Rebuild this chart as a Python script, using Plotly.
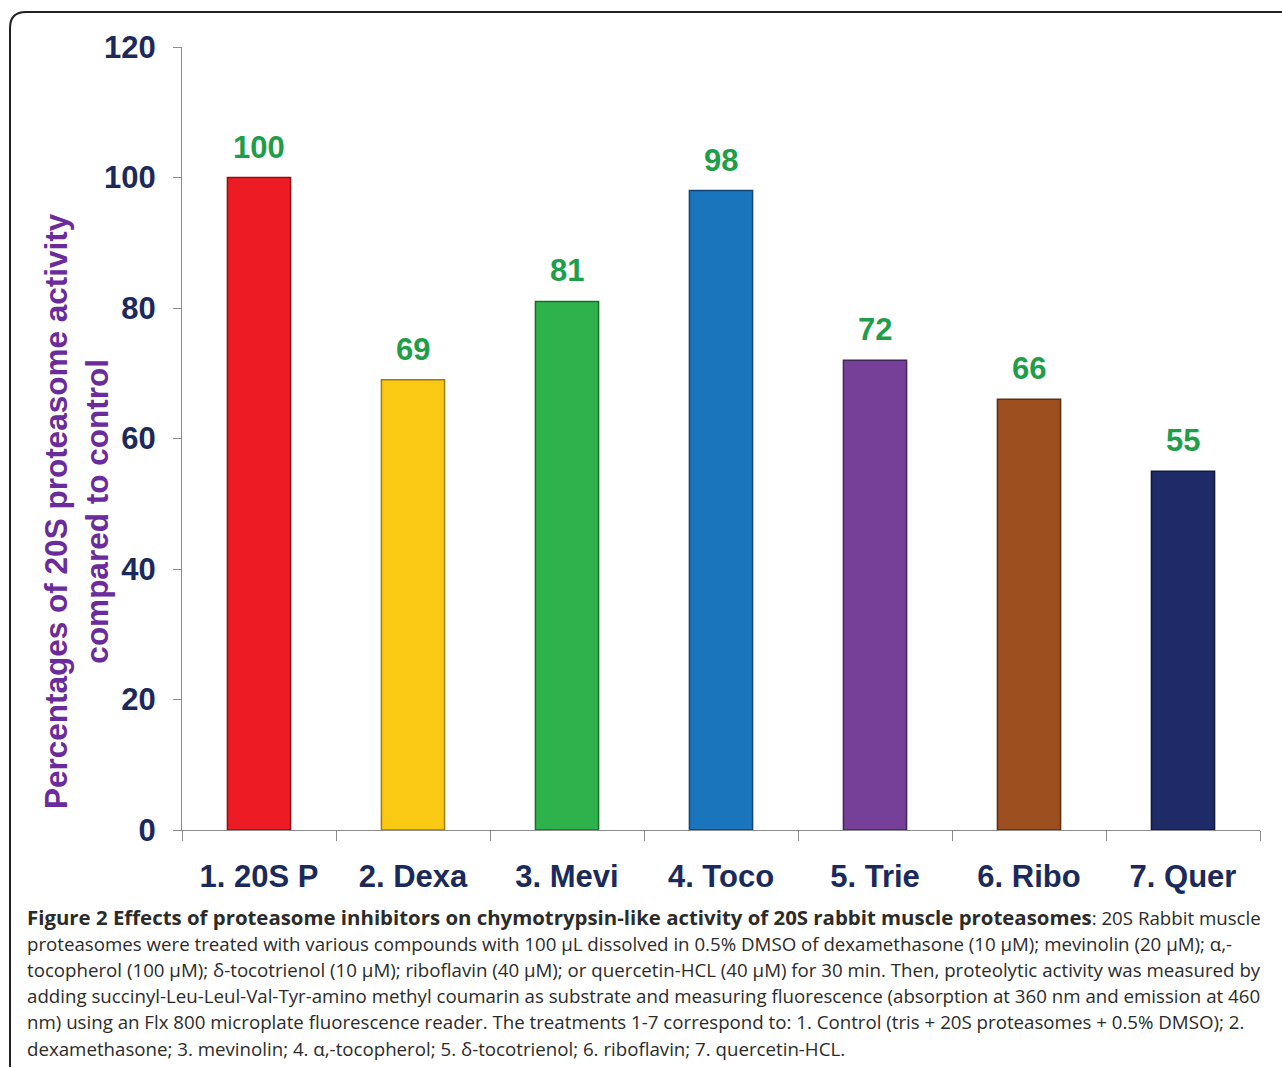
import plotly.graph_objects as go

# Treatments and measured activity (% of control)
categories = ["1. 20S P", "2. Dexa", "3. Mevi", "4. Toco", "5. Trie", "6. Ribo", "7. Quer"]
activity = [100, 69, 81, 98, 72, 66, 55]
bar_colors = ["#ed1c24", "#f9c913", "#2db24c", "#1b75bd", "#763f98", "#9c4e1e", "#1e2b66"]
edge_colors = ["#8e1015", "#a07c08", "#1a6b2d", "#0f4675", "#46255b", "#5e2f12", "#111a3d"]
y_ticks = [0, 20, 40, 60, 80, 100, 120]

caption_lines = [
    "<b><span style='font-size:20.4px'>Figure 2 Effects of proteasome inhibitors on chymotrypsin-like activity of 20S rabbit muscle proteasomes</span></b>: 20S Rabbit muscle",
    "proteasomes were treated with various compounds with 100 µL dissolved in 0.5% DMSO of dexamethasone (10 µM); mevinolin (20 µM); α,-",
    "tocopherol (100 µM); δ-tocotrienol (10 µM); riboflavin (40 µM); or quercetin-HCL (40 µM) for 30 min. Then, proteolytic activity was measured by",
    "adding succinyl-Leu-Leul-Val-Tyr-amino methyl coumarin as substrate and measuring fluorescence (absorption at 360 nm and emission at 460",
    "nm) using an Flx 800 microplate fluorescence reader. The treatments 1-7 correspond to: 1. Control (tris + 20S proteasomes + 0.5% DMSO); 2.",
    "dexamethasone; 3. mevinolin; 4. α,-tocopherol; 5. δ-tocotrienol; 6. riboflavin; 7. quercetin-HCL.",
]

W, H = 1282, 1067
L, R, T, B = 182, 22, 47, 237
PW, PH = W - L - R, H - T - B


def px_x(x):
    return (x - L) / PW


def px_y(y):
    return (H - B - y) / PH


NAVY = "#1b2a5c"
GREEN = "#1f9e49"
PURPLE = "#6a2c9c"
CHART_FONT = "Liberation Sans, Arial"

fig = go.Figure()
fig.add_trace(go.Bar(
    x=categories,
    y=activity,
    marker=dict(color=bar_colors, line=dict(color=edge_colors, width=1.5)),
    width=0.41,
    hoverinfo="x+y",
    showlegend=False,
))

# value labels above each bar
for cat, val in zip(categories, activity):
    fig.add_annotation(
        x=cat, y=val, xref="x", yref="y", text=f"<b>{val}</b>", showarrow=False,
        yanchor="bottom", yshift=11,
        font=dict(family=CHART_FONT, size=31, color=GREEN),
    )

# y-axis title (two lines)
fig.add_annotation(
    x=px_x(76), y=px_y(511), xref="paper", yref="paper",
    text="<b>Percentages of 20S proteasome activity<br>compared to control</b>",
    textangle=-90, showarrow=False, xanchor="center", yanchor="middle",
    font=dict(family=CHART_FONT, size=31.5, color=PURPLE),
)

# caption
for i, line in enumerate(caption_lines):
    fig.add_annotation(
        x=px_x(25), y=px_y(917 + 26.2 * i), xref="paper", yref="paper",
        text=line, showarrow=False, xanchor="left", yanchor="middle",
        align="left",
        font=dict(family="Open Sans", size=18.7, color="#2b2b2b"),
    )

# frame with rounded top-left corner
rad = 16
fig.add_shape(
    type="path", xref="paper", yref="paper",
    path=(f"M {px_x(10)} {px_y(1070)} L {px_x(10)} {px_y(12 + rad)} "
          f"Q {px_x(10)} {px_y(12)} {px_x(10 + rad)} {px_y(12)} L {px_x(1290)} {px_y(12)}"),
    line=dict(color="#222222", width=2),
)

fig.update_layout(
    width=W, height=H,
    margin=dict(l=L, r=R, t=T, b=B, autoexpand=False),
    paper_bgcolor="white", plot_bgcolor="white",
    bargap=0.59,
    xaxis=dict(
        showline=True, linecolor="#8c8c8c", linewidth=1,
        ticks="outside", ticklen=10, tickcolor="#8c8c8c",
        tickson="boundaries",
        tickvals=categories, ticktext=[f"<b>{c}</b>" for c in categories],
        tickfont=dict(family=CHART_FONT, size=31, color=NAVY),
        ticklabelstandoff=19,
        showgrid=False, zeroline=False,
    ),
    yaxis=dict(
        range=[0, 120], tickvals=y_ticks, ticktext=[f"<b>{v}</b>" for v in y_ticks],
        showline=True, linecolor="#8c8c8c", linewidth=1,
        ticks="outside", ticklen=8, tickcolor="#8c8c8c",
        tickfont=dict(family=CHART_FONT, size=31, color=NAVY),
        ticklabelstandoff=11,
        showgrid=False, zeroline=False,
    ),
)

fig.write_html("out.html")
